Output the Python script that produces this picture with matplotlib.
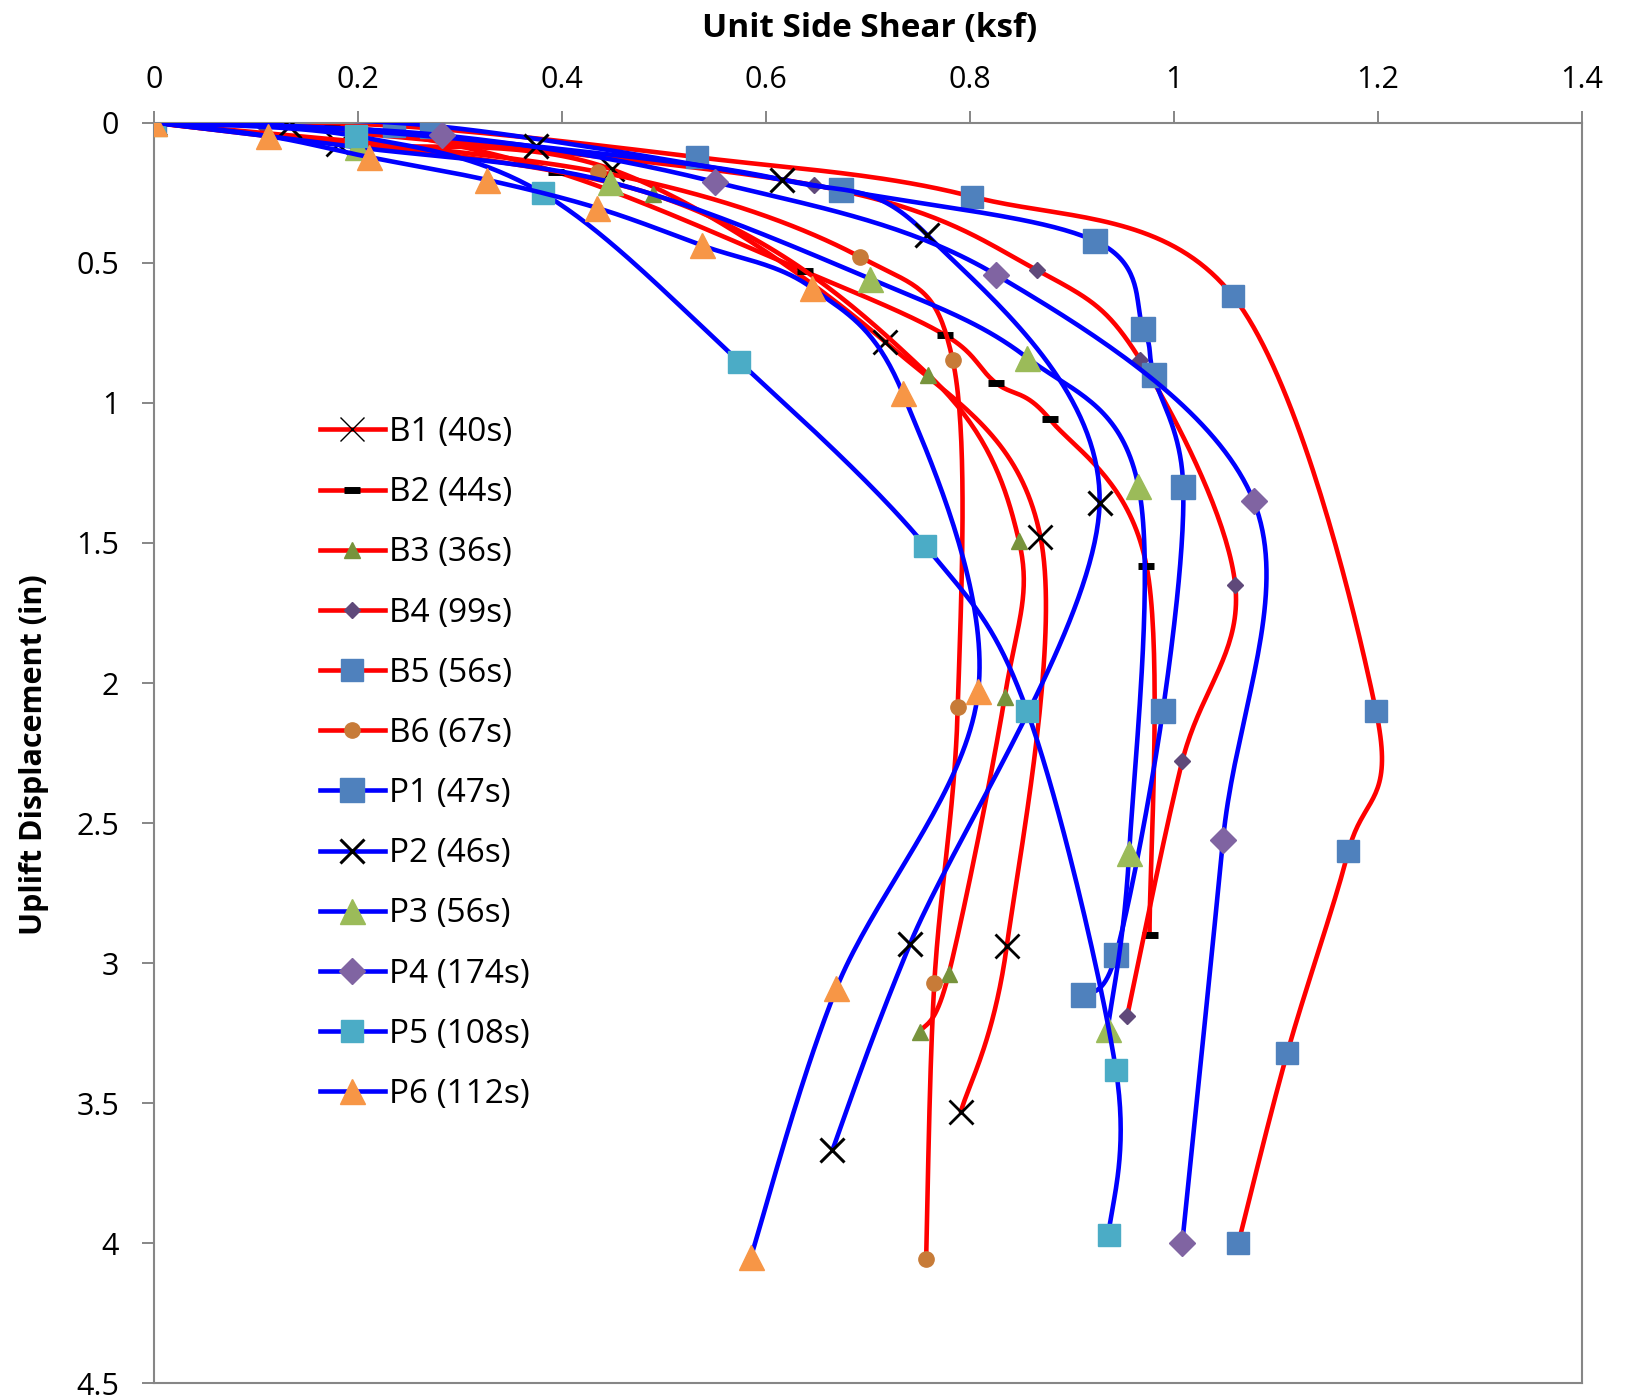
import numpy as np
import matplotlib
matplotlib.use("Agg")
import matplotlib.pyplot as plt
from matplotlib.lines import Line2D

plt.rcParams['font.family'] = ['Open Sans', 'DejaVu Sans']

# valores (x: ksf, y: pulgadas)
b1_x = [0, 0.180, 0.449, 0.717, 0.869, 0.836, 0.791]
b1_y = [0, 0.075, 0.167, 0.783, 1.478, 2.940, 3.530]
b2_x = [0, 0.175, 0.394, 0.638, 0.775, 0.825, 0.878, 0.973, 0.976]
b2_y = [0, 0.007, 0.175, 0.531, 0.757, 0.928, 1.058, 1.582, 2.900]
b3_x = [0, 0.489, 0.759, 0.848, 0.834, 0.779, 0.751]
b3_y = [0, 0.256, 0.899, 1.493, 2.050, 3.040, 3.245]
b4_x = [0, 0.107, 0.647, 0.866, 0.967, 1.060, 1.008, 0.954]
b4_y = [0, 0.007, 0.223, 0.527, 0.847, 1.650, 2.280, 3.190]
b5_x = [0, 0.235, 0.532, 0.802, 1.058, 1.198, 1.171, 1.111, 1.063]
b5_y = [0, 0.011, 0.123, 0.264, 0.620, 2.100, 2.600, 3.320, 4.000]
b6_x = [0, 0.435, 0.692, 0.783, 0.788, 0.765, 0.757]
b6_y = [0, 0.175, 0.479, 0.847, 2.087, 3.070, 4.055]
p1_x = [0, 0.273, 0.674, 0.923, 0.970, 0.980, 1.009, 0.989, 0.943, 0.911]
p1_y = [0, 0.011, 0.241, 0.423, 0.735, 0.902, 1.300, 2.100, 2.970, 3.115]
p2_x = [0, 0.132, 0.375, 0.616, 0.758, 0.927, 0.741, 0.665]
p2_y = [0, 0.011, 0.085, 0.204, 0.401, 1.359, 2.933, 3.668]
p3_x = [0, 0.199, 0.447, 0.702, 0.856, 0.965, 0.956, 0.935]
p3_y = [0, 0.088, 0.212, 0.557, 0.839, 1.296, 2.607, 3.234]
p4_x = [0, 0.282, 0.550, 0.825, 1.078, 1.048, 1.008]
p4_y = [0, 0.045, 0.212, 0.542, 1.350, 2.560, 4.000]
p5_x = [0, 0.198, 0.381, 0.574, 0.756, 0.856, 0.943, 0.936]
p5_y = [0, 0.048, 0.252, 0.854, 1.510, 2.100, 3.380, 3.970]
p6_x = [0, 0.112, 0.211, 0.326, 0.434, 0.537, 0.645, 0.734, 0.808, 0.669, 0.585]
p6_y = [0, 0.048, 0.123, 0.204, 0.304, 0.438, 0.590, 0.965, 2.030, 3.090, 4.050]

nombres = ['B1 (40s)', 'B2 (44s)', 'B3 (36s)', 'B4 (99s)', 'B5 (56s)', 'B6 (67s)',
           'P1 (47s)', 'P2 (46s)', 'P3 (56s)', 'P4 (174s)', 'P5 (108s)', 'P6 (112s)']
xs = [b1_x, b2_x, b3_x, b4_x, b5_x, b6_x, p1_x, p2_x, p3_x, p4_x, p5_x, p6_x]
ys = [b1_y, b2_y, b3_y, b4_y, b5_y, b6_y, p1_y, p2_y, p3_y, p4_y, p5_y, p6_y]

x_ticks = [0, 0.2, 0.4, 0.6, 0.8, 1.0, 1.2, 1.4]
y_ticks = [0, 0.5, 1, 1.5, 2, 2.5, 3, 3.5, 4, 4.5]

# estilo de cada serie: color de linea, marcador, tamaño, color, ancho de borde
estilos = [
    ('#FF0000', 'x', 17, 'black', 2.0),
    ('#FF0000', '_', 12, 'black', 5.0),
    ('#FF0000', '^', 11, '#77933C', 1.0),
    ('#FF0000', 'D', 8, '#5F497A', 1.0),
    ('#FF0000', 's', 16, '#4F81BD', 1.0),
    ('#FF0000', 'o', 11, '#C77B38', 1.0),
    ('#0000FF', 's', 17, '#4F81BD', 1.0),
    ('#0000FF', 'x', 17, 'black', 2.2),
    ('#0000FF', '^', 18, '#9BBB59', 1.0),
    ('#0000FF', 'D', 13, '#8064A2', 1.0),
    ('#0000FF', 's', 16, '#4BACC6', 1.0),
    ('#0000FF', '^', 18, '#F79646', 1.0),
]


def suavizar(x, y, n=40):
    # curva tipo Excel (bezier con tangentes de Catmull-Rom)
    p = np.column_stack([x, y]).astype(float)
    p = np.vstack([p[0], p, p[-1]])
    t = np.linspace(0, 1, n)[:, None]
    tramos = []
    for i in range(1, len(p) - 2):
        p0, p1, p2, p3 = p[i - 1], p[i], p[i + 1], p[i + 2]
        c1 = p1 + (p2 - p0) / 6
        c2 = p2 - (p3 - p1) / 6
        tramos.append((1 - t)**3 * p1 + 3 * (1 - t)**2 * t * c1
                      + 3 * (1 - t) * t**2 * c2 + t**3 * p2)
    c = np.vstack(tramos)
    return c[:, 0], c[:, 1]


fig = plt.figure(figsize=(16.31, 14.0), dpi=100)
ax = fig.add_axes([0.0944, 0.0118, 0.8756, 0.9006])

handles = []
for i in range(len(xs)):
    col, mk, ms, mc, mew = estilos[i]
    sx, sy = suavizar(xs[i], ys[i])
    ax.plot(sx, sy, color=col, lw=3.3, zorder=2 + i * 0.1, solid_capstyle='round')
    if mk in ('x', '_'):
        ax.plot(xs[i], ys[i], ls='none', marker=mk, ms=ms, color=mc, mew=mew,
                zorder=2.05 + i * 0.1)
        h = Line2D([], [], color=col, lw=3.3, marker=mk, ms=ms, mec=mc,
                   mew=(1.0 if i == 0 else mew))
    else:
        ax.plot(xs[i], ys[i], ls='none', marker=mk, ms=ms, mfc=mc, mec=mc,
                mew=mew, zorder=2.05 + i * 0.1)
        h = Line2D([], [], color=col, lw=3.3, marker=mk, ms=ms, mfc=mc, mec=mc)
    handles.append(h)

ax.set_xlim(0, 1.4)
ax.set_ylim(4.5, 0)
ax.xaxis.tick_top()
ax.set_xticks(x_ticks)
ax.set_xticklabels(['%g' % v for v in x_ticks])
ax.set_yticks(y_ticks)
ax.set_yticklabels(['%g' % v for v in y_ticks])
ax.tick_params(axis='both', direction='out', length=9, width=1.4, color='#868686',
               labelsize=22)
ax.tick_params(axis='x', pad=11)
ax.tick_params(axis='y', pad=16)
for s in ax.spines.values():
    s.set_color('#868686')
    s.set_linewidth(1.5)

fig.text(0.533, 0.980, 'Unit Side Shear (ksf)', ha='center', va='center',
         fontsize=24, fontweight='bold')
fig.text(0.021, 0.461, 'Uplift Displacement (in)', ha='center', va='center',
         rotation=90, fontsize=22, fontweight='bold')

fig.legend(handles, nombres, loc='upper left', bbox_to_anchor=(0.196, 0.7028),
           frameon=False, fontsize=24, handlelength=1.95, handletextpad=0.12,
           labelspacing=0.815, borderpad=0, borderaxespad=0)

plt.savefig('out.png', dpi=100)
